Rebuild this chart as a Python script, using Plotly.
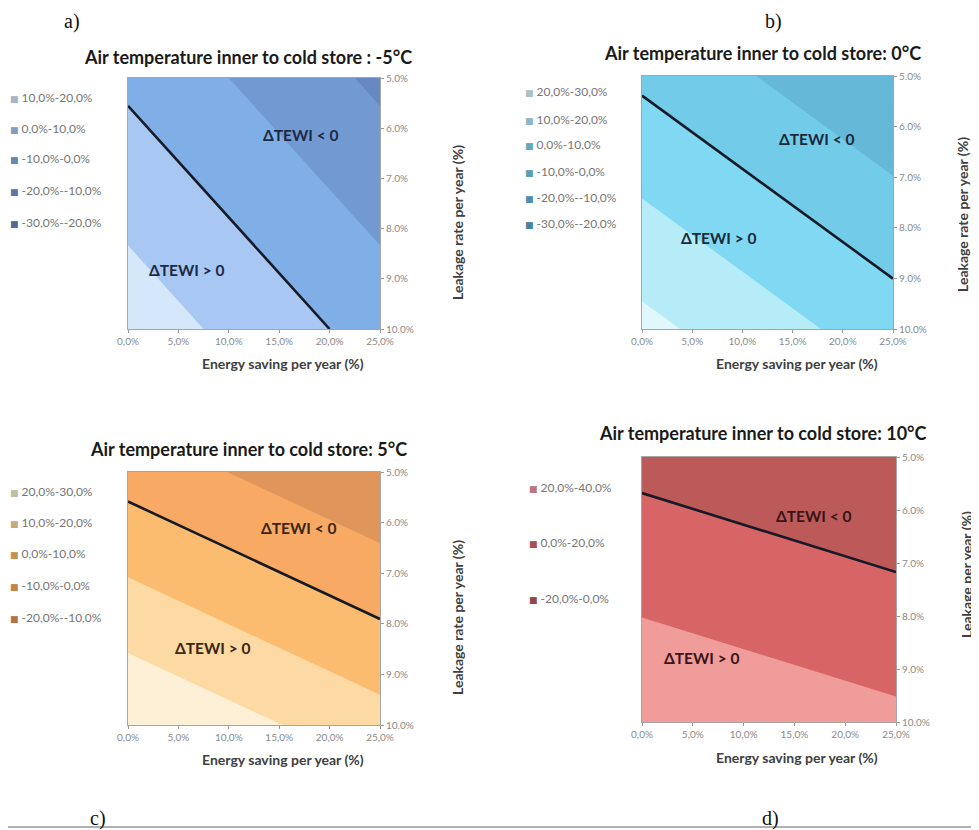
import plotly.graph_objects as go

# page body has an 8px margin: figure is drawn at (8, 8) in the 979x830 window
OFF = 8
W, H = 979 - OFF, 830 - OFF

# ---------------- data ----------------
energy_saving = [0.0, 25.0]      # Energy saving per year (%)  -> x
leakage = [5.0, 10.0]            # Leakage rate per year (%)   -> y

# ΔTEWI (%) at grid corners: rows = leakage, cols = energy_saving
dtewi_a = [[-2.0, -22.0], [16.0, -4.0]]
dtewi_b = [[-1.9, -19.7], [22.7, 4.9]]
dtewi_c = [[-3.9, -19.4], [29.5, 14.0]]
dtewi_d = [[-5.8, -18.5], [36.8, 24.1]]

levels_a = [-20, -10, 0, 10]
levels_b = [-20, -10, 0, 10, 20]
levels_c = [-10, 0, 10, 20]
levels_d = [0, 20]

legend_a = ["10,0%-20,0%", "0,0%-10,0%", "-10,0%-0,0%", "-20,0%--10,0%", "-30,0%--20,0%"]
legend_b = ["20,0%-30,0%", "10,0%-20,0%", "0,0%-10,0%", "-10,0%-0,0%", "-20,0%--10,0%", "-30,0%--20,0%"]
legend_c = ["20,0%-30,0%", "10,0%-20,0%", "0,0%-10,0%", "-10,0%-0,0%", "-20,0%--10,0%"]
legend_d = ["20,0%-40,0%", "0,0%-20,0%", "-20,0%-0,0%"]

title_a = "Air temperature inner to cold store : -5°C"
title_b = "Air temperature inner to cold store: 0°C"
title_c = "Air temperature inner to cold store: 5°C"
title_d = "Air temperature inner to cold store: 10°C"

x_title = "Energy saving per year (%)"
y_title_abc = "Leakage rate per year (%)"
y_title_d = "Leakage per year (%)"

x_tickvals = [0, 5, 10, 15, 20, 25]
x_ticktext = ["0,0%", "5,0%", "10,0%", "15,0%", "20,0%", "25,0%"]
y_tickvals = [5, 6, 7, 8, 9, 10]
y_ticktext = ["5.0%", "6.0%", "7.0%", "8.0%", "9.0%", "10.0%"]

panel_labels = ["a)", "b)", "c)", "d)"]

# ---------------- styling ----------------
colors_a = ["#6689c2", "#7399d3", "#80aee6", "#a8c8f3", "#d5e7fb"]
colors_b = ["#5aa9cc", "#66b8d8", "#72cbe8", "#80d8f2", "#b5ecf8", "#e0f7fc"]
colors_c = ["#e0955a", "#f8aa64", "#fcbc70", "#fdd9a3", "#fdf0d6"]
colors_d = ["#bc5a5a", "#d86565", "#ef9c9a"]


def darken(h, f=0.78):
    h = h.lstrip("#")
    r, g, b = (int(h[i:i + 2], 16) for i in (0, 2, 4))
    return "#%02x%02x%02x" % (int(r * f), int(g * f), int(b * f))


def px(x):
    return (x - OFF) / W


def py(y):
    return 1 - (y - OFF) / H


panels = [
    dict(z=dtewi_a, levels=levels_a, colors=colors_a, legend=legend_a, title=title_a,
         ytitle=y_title_abc, box=(128, 380, 78, 329), title_pos=(248, 57),
         xt_pos=(283, 363), yt_pos=(457, 223), leg_x=8, leg_y=[97, 128, 159, 190, 222],
         lt=(17.1, 6.13), gt=(5.85, 8.82), tcol="#1c2a44"),
    dict(z=dtewi_b, levels=levels_b, colors=colors_b, legend=legend_b, title=title_b,
         ytitle=y_title_abc, box=(642, 893, 76, 329), title_pos=(762, 53),
         xt_pos=(797, 363), yt_pos=(962, 215), leg_x=523, leg_y=[92, 119, 145, 171, 197, 223],
         lt=(17.4, 6.25), gt=(7.6, 8.2), tcol="#1a2a3a"),
    dict(z=dtewi_c, levels=levels_c, colors=colors_c, legend=legend_c, title=title_c,
         ytitle=y_title_abc, box=(128, 380, 472, 725), title_pos=(248, 449),
         xt_pos=(283, 759), yt_pos=(457, 618), leg_x=8, leg_y=[491, 522, 553, 585, 617],
         lt=(16.9, 6.1), gt=(8.4, 8.48), tcol="#3a2614"),
    dict(z=dtewi_d, levels=levels_d, colors=colors_d, legend=legend_d, title=title_d,
         ytitle=y_title_d, box=(642, 896, 457, 722), title_pos=(763, 433),
         xt_pos=(797, 757), yt_pos=(966, 575), leg_x=527, leg_y=[487, 542, 598],
         lt=(16.9, 6.12), gt=(5.9, 8.8), tcol="#3a1416"),
]

label_pos = [(72, 21), (773, 21), (98, 818), (770, 818)]

fig = go.Figure()
annotations = []
layout_axes = {}

for i, p in enumerate(panels):
    k = "" if i == 0 else str(i + 1)
    xa, ya = "x" + k, "y" + k
    lv = p["levels"]
    n = len(p["colors"])
    cscale = [[j / (n - 1), c] for j, c in enumerate(p["colors"])]
    fig.add_trace(go.Contour(
        x=energy_saving, y=leakage, z=p["z"], autocontour=False,
        contours=dict(start=lv[0], end=lv[-1], size=lv[1] - lv[0],
                      coloring="fill", showlines=False),
        colorscale=cscale, showscale=False, line=dict(width=0),
        hoverinfo="skip", xaxis=xa, yaxis=ya))
    # ΔTEWI = 0 line
    fig.add_trace(go.Contour(
        x=energy_saving, y=leakage, z=p["z"], autocontour=False,
        contours=dict(start=0, end=0, size=1, coloring="lines"),
        colorscale=[[0, "#161a26"], [1, "#161a26"]], showscale=False,
        line=dict(width=2.6), hoverinfo="skip", xaxis=xa, yaxis=ya))

    l, r, t, b = p["box"]
    layout_axes["xaxis" + k] = dict(
        domain=[px(l), px(r)], anchor=ya, range=[0, 25], tickvals=x_tickvals,
        ticktext=x_ticktext, ticks="outside", ticklen=3, tickcolor="#9a9a9a",
        showline=True, linecolor="#a6a6a6", linewidth=1, mirror=True,
        showgrid=False, zeroline=False,
        tickfont=dict(family="Lato", size=10, color="#8a8a8a"))
    layout_axes["yaxis" + k] = dict(
        domain=[py(b), py(t)], anchor=xa, range=[10, 5], side="right",
        tickvals=y_tickvals, ticktext=y_ticktext, ticks="outside", ticklen=3,
        tickcolor="#9a9a9a", showline=True, linecolor="#a6a6a6", linewidth=1,
        mirror=True, showgrid=False, zeroline=False,
        tickfont=dict(family="Lato", size=10, color="#8a8a8a"))

    # titles
    tx, ty = p["title_pos"]
    annotations.append(dict(x=px(tx), y=py(ty), xref="paper", yref="paper",
                            text="<b>%s</b>" % p["title"], showarrow=False,
                            xanchor="center", yanchor="middle",
                            font=dict(family="Lato", size=18, color="#1a1a1a")))
    ax_, ay_ = p["xt_pos"]
    annotations.append(dict(x=px(ax_), y=py(ay_), xref="paper", yref="paper",
                            text="<b>%s</b>" % x_title, showarrow=False,
                            xanchor="center", yanchor="middle",
                            font=dict(family="Lato", size=14, color="#404040")))
    yx, yy = p["yt_pos"]
    annotations.append(dict(x=px(yx), y=py(yy), xref="paper", yref="paper",
                            text="<b>%s</b>" % p["ytitle"], showarrow=False,
                            textangle=-90, xanchor="center", yanchor="middle",
                            font=dict(family="Lato", size=14, color="#404040")))
    # ΔTEWI labels
    annotations.append(dict(x=p["lt"][0], y=p["lt"][1], xref=xa, yref=ya,
                            text="<b>ΔTEWI &lt; 0</b>", showarrow=False,
                            font=dict(family="Lato", size=15.5, color=p["tcol"])))
    annotations.append(dict(x=p["gt"][0], y=p["gt"][1], xref=xa, yref=ya,
                            text="<b>ΔTEWI &gt; 0</b>", showarrow=False,
                            font=dict(family="Lato", size=15.5, color=p["tcol"])))
    # legend entries (top = highest band)
    for lab, c, ly in zip(p["legend"], list(reversed(p["colors"])), p["leg_y"]):
        annotations.append(dict(
            x=px(p["leg_x"]), y=py(ly), xref="paper", yref="paper",
            text=('<span style="color:%s;font-family:DejaVu Sans;font-size:9px">■</span>'
                  ' %s' % (darken(c), lab)),
            showarrow=False, xanchor="left", yanchor="middle",
            font=dict(family="Lato", size=12, color="#767676")))

for lab, (lx, ly) in zip(panel_labels, label_pos):
    annotations.append(dict(x=px(lx), y=py(ly), xref="paper", yref="paper",
                            text=lab, showarrow=False, xanchor="center",
                            yanchor="middle",
                            font=dict(family="Liberation Serif", size=20, color="#111111")))

fig.update_layout(
    width=W, height=H, margin=dict(l=0, r=0, t=0, b=0, autoexpand=False),
    paper_bgcolor="white", plot_bgcolor="white", showlegend=False,
    annotations=annotations,
    shapes=[dict(type="line", xref="paper", yref="paper", x0=0, x1=1,
                 y0=py(827), y1=py(827), line=dict(color="#b0b0b0", width=2))],
    **layout_axes)

fig.write_html("out.html")
